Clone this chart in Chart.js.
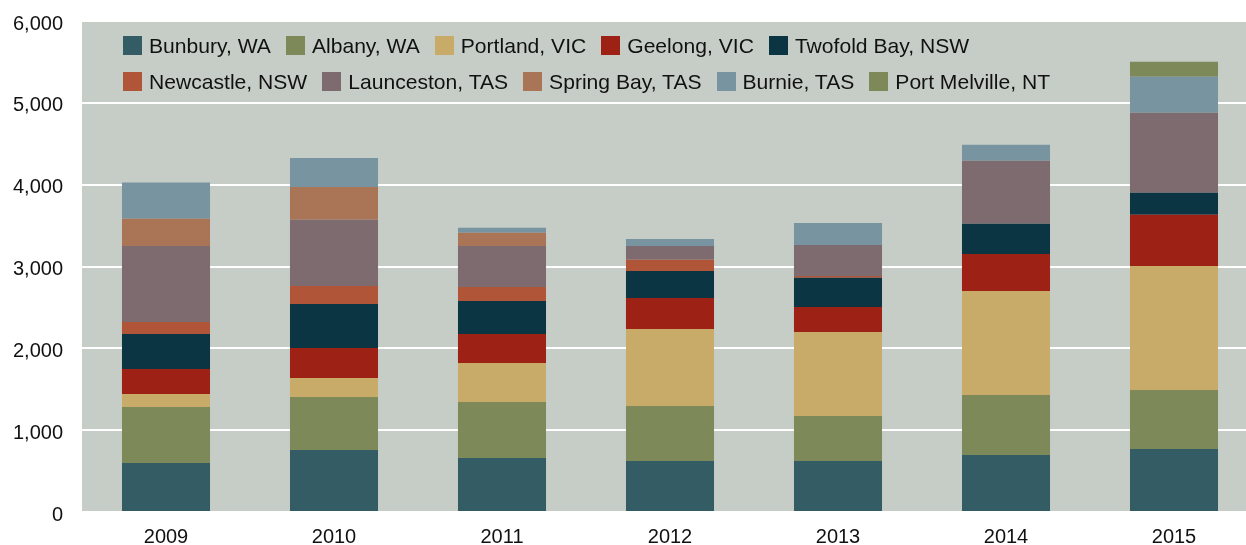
<!DOCTYPE html>
<html>
<head>
<meta charset="utf-8">
<script src="https://cdn.jsdelivr.net/npm/chart.js@4.4.1/dist/chart.umd.min.js"></script>
<style>
  html, body { margin: 0; padding: 0; background: #fff; }
  #wrap { position: relative; width: 1246px; height: 545px; overflow: hidden; }
  #chartBox { position: absolute; left: 0; top: 0; width: 1260px; height: 545px; }
  #legend { position: absolute; left: 123px; top: 36px; font-family: "Liberation Sans", Helvetica, Arial, sans-serif; font-size: 21.1px; color: #111; }
  .lg-row { display: flex; height: 19px; margin-bottom: 17px; }
  .lg-item { display: flex; align-items: center; margin-right: 15px; white-space: nowrap; }
  .lg-box { width: 19px; height: 19px; margin-right: 7px; flex: none; }
</style>
</head>
<body>
<div id="wrap">
  <div id="chartBox"><canvas id="portChart" width="1260" height="545"></canvas></div>
  <div id="legend"></div>
</div>
<script>
// years on the x axis
var years = ["2009", "2010", "2011", "2012", "2013", "2014", "2015"];

// one series per port, bottom of the stack first
var bunbury = [600, 758, 660, 623, 623, 697, 770];
var albany = [684, 648, 685, 673, 551, 733, 721];
var portland = [159, 232, 477, 941, 1026, 1272, 1516];
var geelong = [305, 367, 354, 379, 306, 452, 624];
var twofoldBay = [428, 538, 403, 330, 355, 367, 269];
var newcastle = [147, 220, 172, 135, 24, 0, 0];
var launceston = [929, 807, 501, 171, 379, 770, 978];
var springBay = [330, 403, 159, 0, 0, 0, 0];
var burnie = [444, 354, 61, 85, 269, 196, 440];
var portMelville = [0, 0, 0, 0, 0, 0, 183];

var yTicks = [0, 1000, 2000, 3000, 4000, 5000, 6000];

var series = [
  { label: "Bunbury, WA", data: bunbury, color: "#345c65" },
  { label: "Albany, WA", data: albany, color: "#7e8959" },
  { label: "Portland, VIC", data: portland, color: "#c8ab69" },
  { label: "Geelong, VIC", data: geelong, color: "#9d2115" },
  { label: "Twofold Bay, NSW", data: twofoldBay, color: "#0b3542" },
  { label: "Newcastle, NSW", data: newcastle, color: "#b15538" },
  { label: "Launceston, TAS", data: launceston, color: "#7e6b70" },
  { label: "Spring Bay, TAS", data: springBay, color: "#a97556" },
  { label: "Burnie, TAS", data: burnie, color: "#7894a1" },
  { label: "Port Melville, NT", data: portMelville, color: "#7e8959" },
];

var FONT = "'Liberation Sans', Helvetica, Arial, sans-serif";

// grey plot background
var plotBg = {
  id: "plotBg",
  beforeDraw: function (chart) {
    var a = chart.chartArea;
    var ctx = chart.ctx;
    ctx.save();
    ctx.fillStyle = "#c6cdc6";
    ctx.fillRect(a.left, a.top, a.right - a.left, a.bottom - a.top);
    ctx.restore();
  },
};

new Chart(document.getElementById("portChart"), {
  type: "bar",
  data: {
    labels: years,
    datasets: series.map(function (s) {
      return {
        label: s.label,
        data: s.data,
        backgroundColor: s.color,
        borderWidth: 0,
        categoryPercentage: 1,
        barPercentage: 0.524,
      };
    }),
  },
  options: {
    responsive: false,
    animation: false,
    locale: "en-US",
    layout: { padding: { top: 21, right: 2, left: 0, bottom: 0 } },
    plugins: { legend: { display: false }, tooltip: { enabled: false } },
    scales: {
      x: {
        stacked: true,
        grid: { display: false, drawTicks: false },
        border: { display: false },
        ticks: { color: "#111", font: { family: FONT, size: 20 }, padding: 13 },
        afterFit: function (s) { s.height = 33; s.paddingLeft = 0; s.paddingRight = 0; },
      },
      y: {
        stacked: true,
        min: 0,
        max: 6000,
        afterBuildTicks: function (s) {
          s.ticks = yTicks.map(function (v) { return { value: v }; });
        },
        grid: { color: "#ffffff", lineWidth: 2, drawTicks: false },
        border: { display: false },
        ticks: {
          color: "#111",
          font: { family: FONT, size: 20 },
          padding: 19,
          labelOffset: 3,
          callback: function (v) { return v.toLocaleString("en-US"); },
        },
        afterFit: function (s) { s.width = 82; s.paddingTop = 0; s.paddingBottom = 0; },
      },
    },
  },
  plugins: [plotBg],
});

// legend laid over the plot, two rows like the original
var legendEl = document.getElementById("legend");
[series.slice(0, 5), series.slice(5)].forEach(function (row) {
  var r = document.createElement("div");
  r.className = "lg-row";
  row.forEach(function (s) {
    var it = document.createElement("div");
    it.className = "lg-item";
    var b = document.createElement("span");
    b.className = "lg-box";
    b.style.background = s.color;
    var t = document.createElement("span");
    t.textContent = s.label;
    it.appendChild(b);
    it.appendChild(t);
    r.appendChild(it);
  });
  legendEl.appendChild(r);
});
</script>
</body>
</html>
